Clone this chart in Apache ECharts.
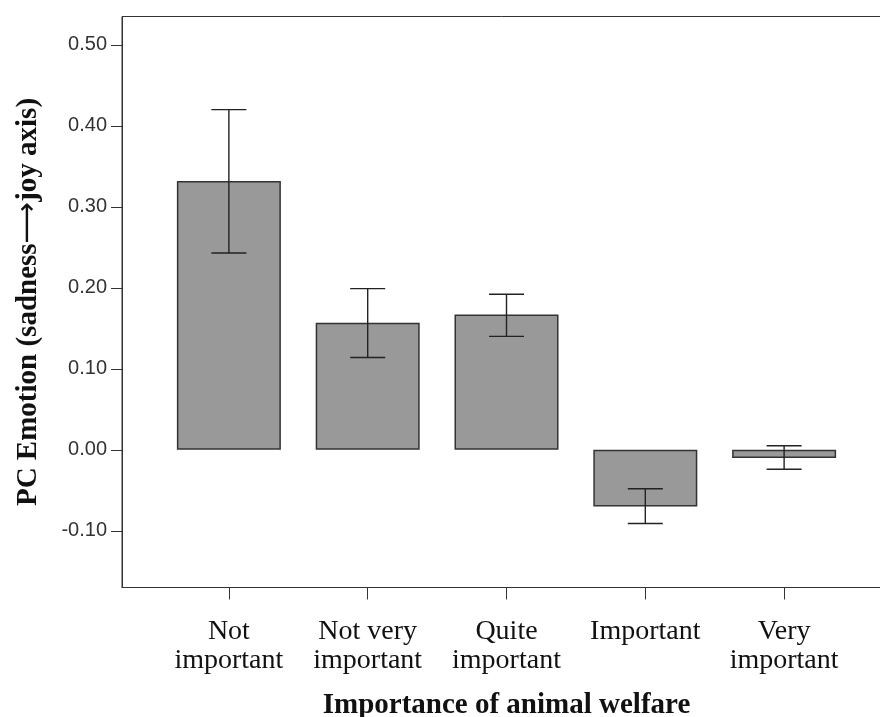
<!DOCTYPE html>
<html>
<head>
<meta charset="utf-8">
<script src="https://cdn.jsdelivr.net/npm/echarts@6/dist/echarts.min.js"></script>
<style>html,body{margin:0;padding:0;background:#fff}#c{width:880px;height:717px}</style>
</head>
<body>
<div id="c"></div>
<script>
const categories = ["Not\nimportant", "Not very\nimportant", "Quite\nimportant", "Important", "Very\nimportant"];
const means = [0.332, 0.157, 0.167, -0.070, -0.010];
const errLow = [0.243, 0.114, 0.140, -0.091, -0.024];
const errHigh = [0.420, 0.199, 0.192, -0.048, 0.005];
const yTicks = [-0.10, 0.00, 0.10, 0.20, 0.30, 0.40, 0.50];
const xTicks = [0, 1, 2, 3, 4];
const xTitle = "Importance of animal welfare";
const yTitle = "PC Emotion (sadness{arr|\u27F6}joy axis)";

const chart = echarts.init(document.getElementById('c'), null, {renderer: 'canvas'});
const option = {
  animation: false,
  backgroundColor: '#fff',
  grid: {left: 122, right: -11, top: 16.5, bottom: 129.5, outerBoundsMode: 'none', containLabel: false,
         show: true, borderColor: '#333', borderWidth: 1, backgroundColor: 'transparent'},
  xAxis: {
    type: 'value', min: -0.77, max: 4.77,
    splitLine: {show: false},
    axisLine: {show: true, onZero: false, lineStyle: {color: '#333', width: 1}},
    axisTick: {show: true, length: 12, customValues: xTicks, lineStyle: {color: '#333'}},
    axisLabel: {
      customValues: xTicks, margin: 30,
      formatter: v => categories[Math.round(v)] || '',
      fontFamily: 'Liberation Serif', fontSize: 28, lineHeight: 29, color: '#111'
    },
    name: xTitle, nameLocation: 'middle', nameGap: 104,
    nameTextStyle: {fontFamily: 'Liberation Serif', fontWeight: 'bold', fontSize: 29, color: '#111'}
  },
  yAxis: {
    type: 'value', min: -0.170, max: 0.535,
    splitLine: {show: false},
    axisLine: {show: true, onZero: false, lineStyle: {color: '#333', width: 1}},
    axisTick: {show: true, length: 11, customValues: yTicks, lineStyle: {color: '#333'}},
    axisLabel: {
      customValues: yTicks, margin: 15,
      formatter: v => v.toFixed(2),
      fontFamily: 'Liberation Sans', fontSize: 20, color: '#333'
    },
    name: yTitle, nameLocation: 'middle', nameGap: 79,
    nameTextStyle: {fontFamily: 'Liberation Serif', fontWeight: 'bold', fontSize: 29, color: '#111',
      rich: {arr: {fontFamily: 'DejaVu Sans', fontWeight: 'normal', fontSize: 29, color: '#111'}}}
  },
  series: [
    {
      type: 'bar',
      data: means.map((v, i) => [i, v]),
      barWidth: 104,
      itemStyle: {color: '#999999', borderColor: '#333', borderWidth: 1.5}
    },
    {
      type: 'custom',
      data: means.map((v, i) => [i, errLow[i], errHigh[i]]),
      renderItem: function (params, api) {
        const x = api.value(0);
        const lo = api.coord([x, api.value(1)]);
        const hi = api.coord([x, api.value(2)]);
        const hw = 17.5;
        const style = {stroke: '#222', lineWidth: 1.4};
        return {
          type: 'group',
          children: [
            {type: 'line', shape: {x1: lo[0], y1: lo[1], x2: hi[0], y2: hi[1]}, style: style},
            {type: 'line', shape: {x1: lo[0] - hw, y1: lo[1], x2: lo[0] + hw, y2: lo[1]}, style: style},
            {type: 'line', shape: {x1: hi[0] - hw, y1: hi[1], x2: hi[0] + hw, y2: hi[1]}, style: style}
          ]
        };
      },
      z: 10
    }
  ]
};
chart.setOption(option);
</script>
</body>
</html>
